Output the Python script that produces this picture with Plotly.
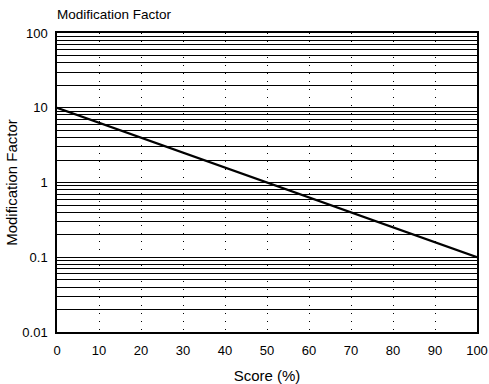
import plotly.graph_objects as go

score = [0, 100]
factor = [10, 0.1]
y_tick_vals = [0.01, 0.1, 1, 10, 100]
y_tick_text = ["0.01", "0.1", "1", "10", "100"]
x_tick_vals = [0, 10, 20, 30, 40, 50, 60, 70, 80, 90, 100]

fig = go.Figure()
fig.add_trace(go.Scatter(x=score, y=factor, mode="lines",
                         line=dict(color="black", width=2.2), showlegend=False))

W, H = 489, 384
font = "Liberation Sans, Arial, sans-serif"
fig.update_layout(
    width=W, height=H,
    margin=dict(l=57, r=12, t=33, b=52),
    paper_bgcolor="white", plot_bgcolor="white",
    font=dict(family=font, color="black", size=12),
    title=dict(text="Modification Factor", x=57/W, xanchor="left",
               y=1-14/H, yanchor="middle", font=dict(size=13.5, color="black")),
)
fig.update_xaxes(
    range=[0, 100], tickvals=x_tick_vals, automargin=False,
    showgrid=True, gridcolor="black", gridwidth=1, griddash="1px,7px",
    showline=True, linecolor="black", linewidth=1.5, mirror=True,
    zeroline=False, ticks="", ticklabelstandoff=6,
    tickfont=dict(size=13),
    title=dict(text="Score (%)", font=dict(size=15), standoff=14),
)
fig.update_yaxes(
    type="log", range=[-2, 2], tickvals=y_tick_vals, ticktext=y_tick_text,
    automargin=False,
    showgrid=True, gridcolor="black", gridwidth=1,
    minor=dict(dtick="D1", showgrid=True, gridcolor="black", gridwidth=1, ticks=""),
    showline=True, linecolor="black", linewidth=1.5, mirror=True,
    zeroline=False, ticks="", ticklabelstandoff=5,
    tickfont=dict(size=13),
    title=dict(text="Modification Factor", font=dict(size=15), standoff=1),
)
fig.write_html("out.html",
               config={"displayModeBar": False},
               post_script="document.body.style.margin='0px';"
                           "document.body.style.overflow='hidden';")
